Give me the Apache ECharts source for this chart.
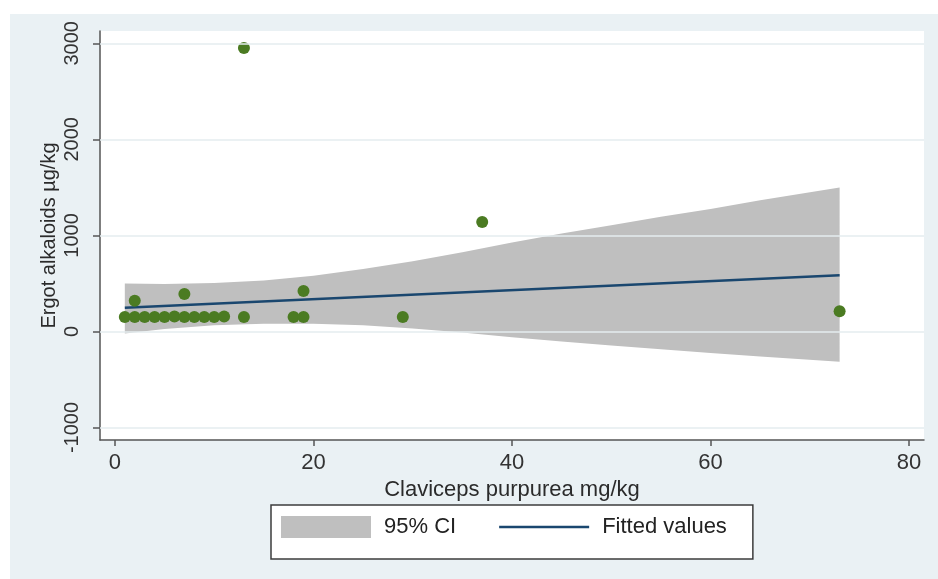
<!DOCTYPE html>
<html><head><meta charset="utf-8">
<script src="https://cdn.jsdelivr.net/npm/echarts@6/dist/echarts.min.js"></script>
<style>html,body{margin:0;padding:0;background:#fff}#c{width:938px;height:579px}</style>
</head><body><div id="c"></div>
<script>
// Data
const pointX = [1, 2, 3, 4, 5, 6, 7, 8, 9, 10, 11, 2, 7, 13, 13, 18, 19, 19, 29, 37, 73];
const pointY = [150, 150, 150, 150, 150, 155, 150, 150, 150, 150, 155, 320, 390, 2950, 150, 150, 150, 420, 150, 1140, 210];
const fitX = [1, 73];
const fitY = [246, 586];
const bandX = [1, 5, 10, 15, 20, 25, 30, 35, 40, 45, 50, 55, 60, 65, 73];
const bandLow = [-20, 25, 65, 80, 80, 65, 30, -10, -60, -105, -145, -185, -225, -260, -316];
const bandHigh = [500, 495, 505, 530, 580, 650, 730, 825, 925, 1020, 1105, 1195, 1275, 1365, 1500];
const xTicks = [0, 20, 40, 60, 80];
const yTicks = [-1000, 0, 1000, 2000, 3000];
const xTitle = 'Claviceps purpurea mg/kg';
const yTitle = 'Ergot alkaloids µg/kg';
const legendNames = ['95% CI', 'Fitted values'];

const font = "'Liberation Sans', Arial, sans-serif";
const chart = echarts.init(document.getElementById('c'), null, {renderer: 'canvas'});
const bandData = bandX.map((x, i) => [x, bandLow[i], bandHigh[i]]);
const scatterData = pointX.map((x, i) => [x, pointY[i]]);
const fitData = fitX.map((x, i) => [x, fitY[i]]);

chart.setOption({
  animation: false,
  backgroundColor: '#ffffff',
  graphic: [{type: 'rect', left: 10, top: 14, shape: {width: 928, height: 565}, style: {fill: '#EAF1F4'}, z: -10, silent: true}],
  grid: {left: 100, top: 31, right: 14, bottom: 139, show: true, backgroundColor: '#ffffff', borderWidth: 0},
  xAxis: {
    type: 'value', min: -1.5, max: 81.5,
    name: xTitle, nameLocation: 'middle', nameGap: 39, nameMoveOverlap: false,
    nameTextStyle: {fontFamily: font, fontSize: 22, color: '#2b2b2b'},
    axisLine: {show: true, onZero: false, lineStyle: {color: '#555', width: 1.5}},
    axisTick: {show: true, length: 6, lineStyle: {color: '#555', width: 1.5}, customValues: xTicks},
    axisLabel: {fontFamily: font, fontSize: 22, color: '#333', margin: 12, customValues: xTicks, formatter: v => String(v)},
    splitLine: {show: false}
  },
  yAxis: {
    type: 'value', min: -1130, max: 3128,
    name: yTitle, nameLocation: 'middle', nameGap: 41, nameRotate: 90, nameMoveOverlap: false,
    nameTextStyle: {fontFamily: font, fontSize: 20, color: '#2b2b2b'},
    axisLine: {show: true, onZero: false, lineStyle: {color: '#555', width: 1.5}},
    axisTick: {show: true, length: 7, lineStyle: {color: '#555', width: 1.5}, customValues: yTicks},
    axisLabel: {fontFamily: font, fontSize: 20, color: '#333', margin: 18, rotate: 90, customValues: yTicks, formatter: v => String(v)},
    splitLine: {show: false}
  },
  legend: {
    left: 271, top: 505,
    padding: [11, 26, 21, 10],
    itemGap: 43, itemWidth: 90, itemHeight: 22,
    backgroundColor: '#ffffff', borderColor: '#3c3c3c', borderWidth: 1.5, borderRadius: 0,
    textStyle: {fontFamily: font, fontSize: 22, color: '#222', padding: [0, 0, 0, 8]},
    data: [
      {name: legendNames[0], icon: 'rect'},
      {name: legendNames[1], icon: 'path://M0,0 L90,0 L90,2.5 L0,2.5 Z', itemStyle: {color: '#1a476f', borderWidth: 0}}
    ]
  },
  series: [
    {
      type: 'line', data: [], z: 1, silent: true,
      markLine: {
        silent: true, symbol: 'none', label: {show: false},
        lineStyle: {color: '#E4ECEF', width: 1.5, type: 'solid'},
        data: yTicks.map(v => ({yAxis: v}))
      }
    },
    {
      name: legendNames[0], type: 'custom', z: 2, silent: true,
      itemStyle: {color: '#bfbfbf'},
      data: bandData,
      renderItem: function (params, api) {
        if (params.dataIndex !== 0) return null;
        const pts = [];
        for (let i = 0; i < bandX.length; i++) pts.push(api.coord([bandX[i], bandHigh[i]]));
        for (let i = bandX.length - 1; i >= 0; i--) pts.push(api.coord([bandX[i], bandLow[i]]));
        return {type: 'polygon', shape: {points: pts}, style: {fill: '#bfbfbf'}};
      }
    },
    {
      name: legendNames[1], type: 'line', z: 3, data: fitData,
      symbol: 'none', lineStyle: {color: '#1a476f', width: 2.5}, itemStyle: {color: '#1a476f'}
    },
    {
      name: 'points', type: 'scatter', z: 4, data: scatterData,
      symbolSize: 12, itemStyle: {color: '#4b7b22', opacity: 1}
    }
  ]
});
</script></body></html>
